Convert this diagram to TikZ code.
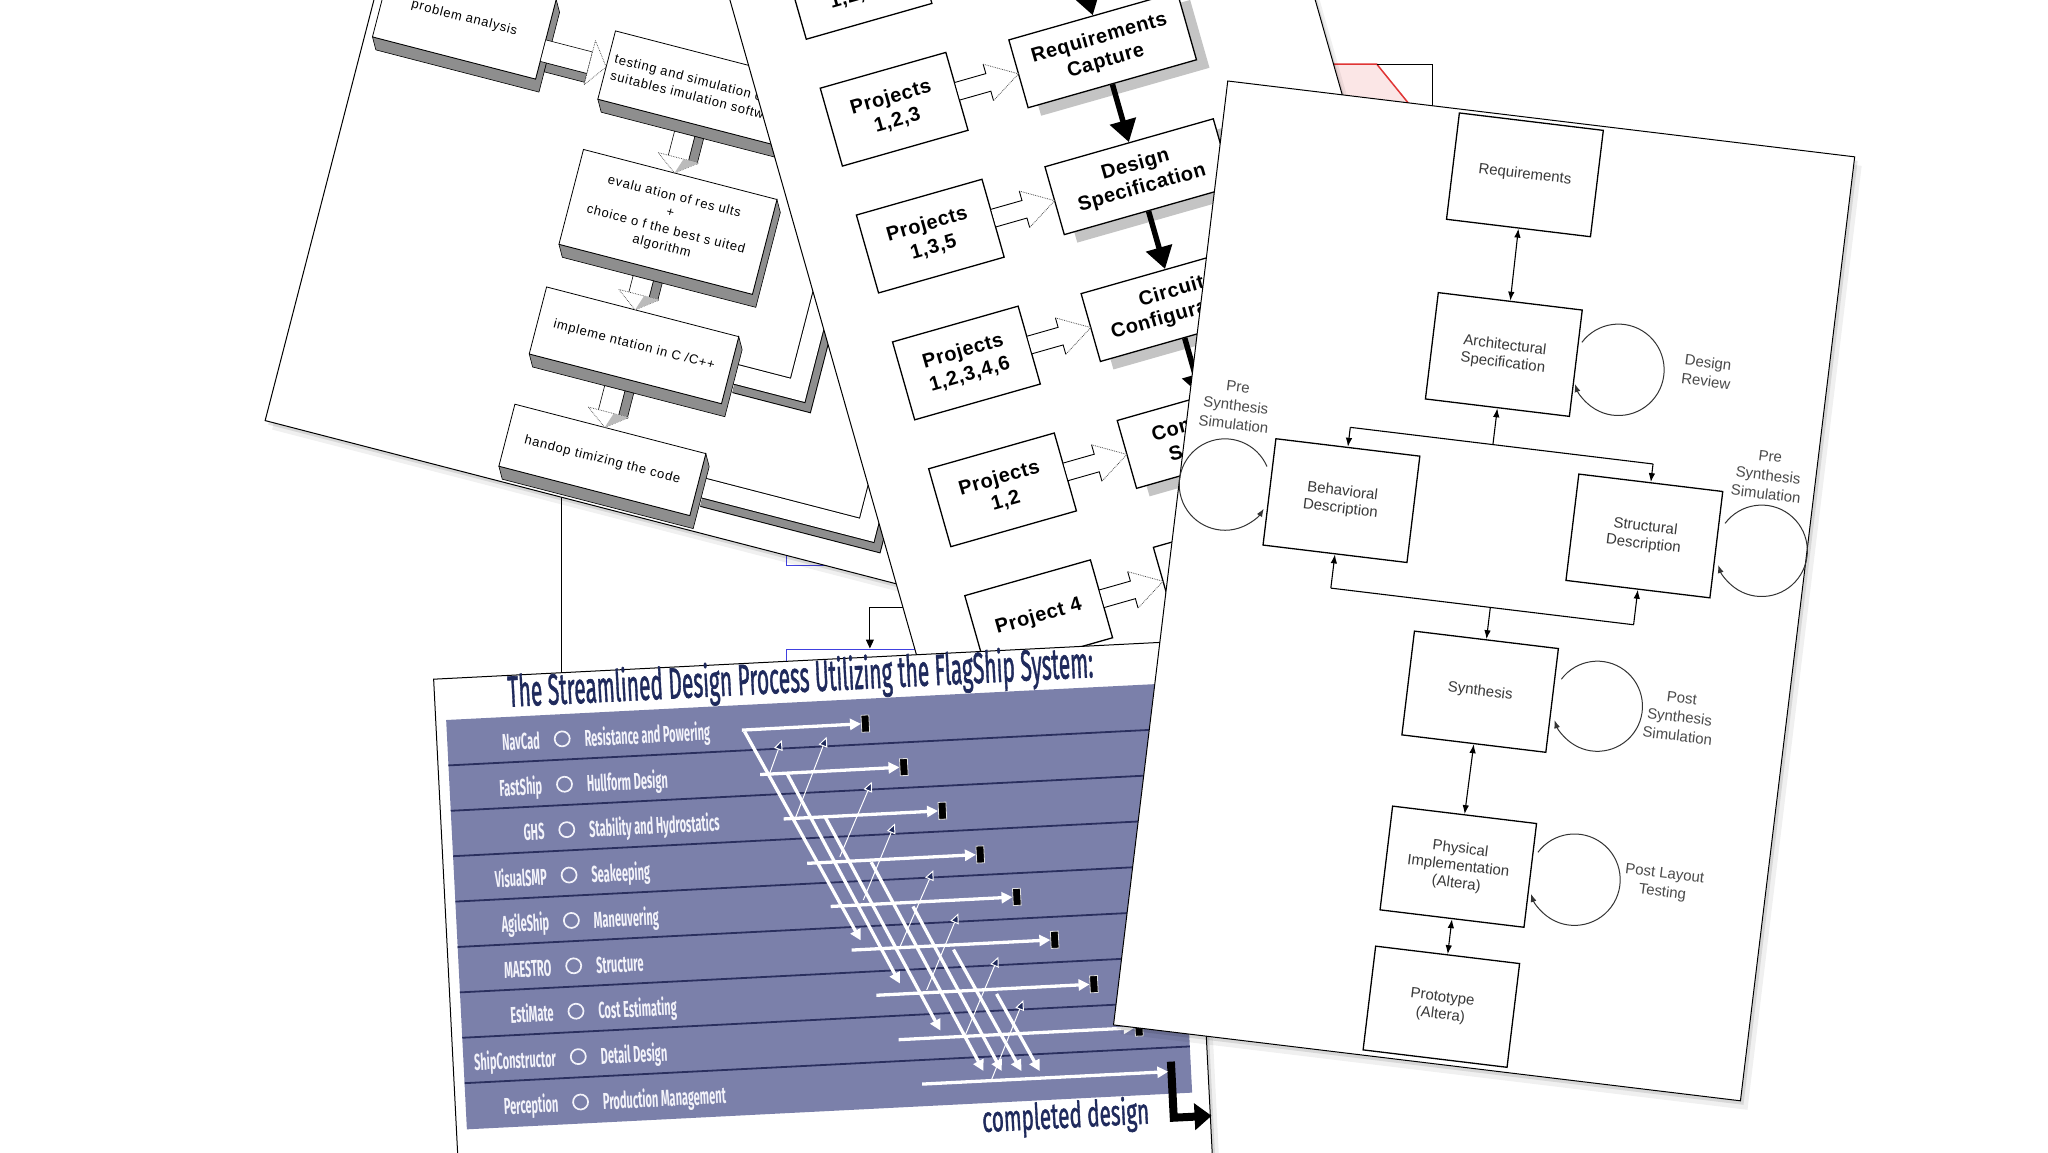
\documentclass[tikz,border=0pt]{standalone}
\usepackage{fontspec}
\usepackage{graphicx}
\setmainfont{Liberation Sans}
\newfontfamily\pofont[LetterSpace=6]{Liberation Sans}
\newfontfamily\pjfont[LetterSpace=3]{Liberation Sans}
\newfontfamily\flagfont{Fira Sans}
\newfontfamily\flagtitle[FakeBold=1.6]{Fira Sans}
\usetikzlibrary{arrows.meta}
\definecolor{bandc}{HTML}{7B80AA}
\definecolor{bandln}{HTML}{2A2F5E}
\definecolor{navy}{HTML}{1F2A5C}
\definecolor{rowtxt}{HTML}{F3F3FA}
\definecolor{extgray}{HTML}{8E8E8E}
\definecolor{shgray}{HTML}{C4C4C4}
\definecolor{ptxt}{HTML}{383838}
\definecolor{ltxt}{HTML}{4A4A4A}
\definecolor{bluel}{HTML}{4040E0}
\definecolor{redl}{HTML}{E03535}
\definecolor{pinkf}{HTML}{FBE6E6}
\newcommand\unitpt{1.306122pt}
\newcommand\pext[4]{\filldraw[fill=extgray,line width=0.6pt] (#1,#4) -- ({#1+5},{#4+9}) -- ({#3+5},{#4+9}) -- ({#3+5},{#2+9}) -- (#3,#2) -- (#3,#4) -- cycle;}
\newcommand\pvarr[3]{%
  \filldraw[fill=extgray,line width=0.6pt] ({#1+16},#2) rectangle ({#1+23},{#3-11});
  \filldraw[fill=white,line width=0.6pt] (#1,#2) rectangle ({#1+16},{#3-11});
  \filldraw[fill=white,draw=black!75,densely dotted,line width=0.7pt] ({#1-8},{#3-12}) -- ({#1+8},#3) -- ({#1+24},{#3-12}) -- cycle;
  \fill[extgray!60] ({#1+8},#3) -- ({#1+24},{#3-12}) -- ({#1+12},{#3-12}) -- cycle;}
\newcommand\pjarr[1]{%
  \fill[white] (148.5,{#1-7}) -- (173,{#1-7}) -- (173,{#1-14.5}) -- (197,#1) -- (173,{#1+14.5}) -- (173,{#1+7}) -- (148.5,{#1+7}) -- cycle;
  \draw[line width=0.9pt] (148,{#1-7}) -- (173,{#1-7}) -- (173,{#1-14.5});
  \draw[line width=0.9pt] (148,{#1+7}) -- (173,{#1+7}) -- (173,{#1+14.5});
  \draw[line width=0.8pt,densely dotted,black!70] (173,{#1-14.5}) -- (197,#1) -- (173,{#1+14.5});}
\begin{document}
\begin{tikzpicture}[x=1.306122pt,y=-1.306122pt,
  paper/.style={fill=white,draw=black,line width=1pt,
    preaction={fill=black,opacity=0.06,transform canvas={xshift=7pt,yshift=-9pt}},
    preaction={fill=black,opacity=0.10,transform canvas={xshift=3pt,yshift=-4pt}}},
  pobox/.style={draw=black,fill=white,line width=0.8pt,inner sep=3pt,align=center,
    font=\pofont\fontsize{13}{17}\selectfont},
  pcbox/.style={draw=black,fill=white,line width=1.3pt,inner sep=2pt,align=center,
    minimum width={134*\unitpt},minimum height={54*\unitpt},
    font=\pjfont\bfseries\fontsize{20}{24}\selectfont,
    preaction={fill=shgray,draw=none,transform canvas={xshift=13pt,yshift=-8pt}}},
  pjbox/.style={draw=black,fill=white,line width=1.3pt,inner sep=2pt,align=center,
    minimum width={100*\unitpt},minimum height={62*\unitpt},
    font=\pjfont\bfseries\fontsize{20}{24}\selectfont},
  bigarr/.style={line width=5.5pt,-{Triangle[length=22pt,width=26pt]}},
  p3box/.style={draw=black,fill=white,line width=1.3pt,inner sep=2pt,align=center,
    minimum width={111*\unitpt},minimum height={82*\unitpt},text=ptxt,
    font=\fontsize{15}{17.5}\selectfont},
  p3lab/.style={align=center,text=ltxt,inner sep=0pt,font=\fontsize{15}{19}\selectfont},
  p3con/.style={line width=1.1pt},
  p3tip/.style={line width=1.1pt,-{Latex[length=9pt,width=6.5pt]}},
  p3dbl/.style={line width=1.1pt,{Latex[length=9pt,width=6.5pt]}-{Latex[length=9pt,width=6.5pt]}},
  p3loop/.style={line width=1pt,draw=black!80,-{Latex[length=8pt,width=6pt]}},
  rowtool/.style={anchor=base east,inner sep=0pt,text=rowtxt,font=\flagfont\bfseries\fontsize{23}{23}\selectfont},
  rowtask/.style={anchor=base west,inner sep=0pt,text=rowtxt,font=\flagfont\bfseries\fontsize{23}{23}\selectfont},
  rowring/.style={circle,draw=rowtxt,line width=1.7pt,minimum size={11.5*\unitpt},inner sep=0pt},
  warr/.style={draw=white,line width=3.3pt,-{Triangle[length=11pt,width=11pt]}},
  wline/.style={draw=white,line width=1pt,-{Triangle[length=10pt,width=9pt,fill=navy]}},
  endmark/.style={fill=black,draw=white!75!gray,line width=0.8pt,minimum width={6*\unitpt},minimum height={13*\unitpt},inner sep=0pt,rotate=2.9}
]
\useasboundingbox (0,0) rectangle (1568,882);
\clip (0,0) rectangle (1568,882);
\fill[white] (0,0) rectangle (1568,882);

% ---------- page behind (blue boxes) ----------
\fill[white] (430,330) rectangle (760,882);
\draw[line width=1pt] (430,330) -- (430,882);
\draw[bluel,line width=1.3pt] (602,400) -- (602,433) -- (660,433);
\draw[bluel,line width=1.3pt] (602,540) -- (602,497) -- (730,497);
\coordinate (b0s) at (700,465);
\coordinate (b0k) at (666,465);
\coordinate (b0e) at (666,496.5);
\draw[line width=1pt,-{Triangle[length=9pt,width=8pt]}] (b0s) -- (b0k) -- (b0e);

% ---------- page behind (red shape) ----------
\fill[white] (985,49) rectangle (1097,220);
\fill[pinkf] (985,49) -- (1054,49) -- (1084,86) -- (985,86) -- cycle;
\draw[redl,line width=1.5pt] (985,49) -- (1054,49) -- (1084,86);
\draw[line width=1pt] (1054,49) -- (1097,49) -- (1097,220);

% ---------- page 1: 3D flow chart ----------
\begin{scope}[shift={(203,322)},rotate=-14.5,transform shape]
\path[paper] (0,-450) rectangle (620,0);
\draw[line width=21pt] (341,-118) -- (395,-118) -- (395,-339) -- (360,-339);
\draw[line width=19pt,extgray] (341,-118) -- (395,-118) -- (395,-339) -- (360,-339);
\draw[line width=21pt] (334,-124.5) -- (389,-124.5) -- (389,-345) -- (355,-345);
\draw[line width=19pt,white] (334,-124.5) -- (389,-124.5) -- (389,-345) -- (355,-345);
\draw[line width=21pt] (339,-27.5) -- (473.5,-27.5) -- (473.5,-380);
\draw[line width=19pt,extgray] (339,-27.5) -- (473.5,-27.5) -- (473.5,-380);
\draw[line width=21pt] (332,-34) -- (467,-34) -- (467,-386);
\draw[line width=19pt,white] (332,-34) -- (467,-34) -- (467,-386);
\pext{6}{-368}{135}{-305}
\node[pobox,minimum width={129*\unitpt},minimum height={63*\unitpt}] (p1a) at (70.5,-336.5) {problem analysis};
\pext{185}{-356}{360}{-302}
\node[pobox,minimum width={175*\unitpt},minimum height={54*\unitpt},text width={165*\unitpt},align=left] (p1b) at (272.5,-329) {testing and simulation of\\suitables imulation software};
\pext{184}{-262}{337}{-187}
\node[pobox,minimum width={153*\unitpt},minimum height={75*\unitpt}] (p1c) at (260.5,-224.5) {evalu ation of res ults\\+\\choice o f the best s uited\\algorithm};
\pext{183}{-153}{335}{-100}
\node[pobox,minimum width={152*\unitpt},minimum height={53*\unitpt}] (p1d) at (259,-126.5) {impleme ntation in C /C++};
\pext{182}{-60}{333}{-11}
\node[pobox,minimum width={151*\unitpt},minimum height={49*\unitpt}] (p1e) at (257.5,-35.5) {handop timizing the code};
\filldraw[fill=extgray,line width=0.6pt] (140,-319) rectangle (172,-312);
\filldraw[fill=white,line width=0.6pt] (135,-336) rectangle (172,-319);
\filldraw[fill=white,draw=black!75,densely dotted,line width=0.7pt] (172,-345) -- (185,-327.5) -- (172,-310) -- cycle;
\pvarr{248}{-293}{-262}
\pvarr{245}{-178}{-153}
\pvarr{245}{-91}{-60}
\end{scope}

% ---------- page 2: projects ----------
\begin{scope}[shift={(558,-3)},rotate=15.9,transform shape]
\path[paper] (0,-260) rectangle (431,640);
\node[pcbox] (pc0) at (264,17) {};
\node[pcbox] (pc1) at (264,118) {Requirements\\Capture};
\node[pcbox] (pc2) at (264,219) {Design\\Specification};
\node[pcbox] (pc3) at (264,320) {Circuit\\Configuration};
\node[pcbox] (pc4) at (264,421) {Component\\Selection};
\node[pcbox] (pc5) at (264,522) {};
\draw[bigarr] (pc0.south) -- (pc1.north);
\draw[bigarr] (pc1.south) -- (pc2.north);
\draw[bigarr] (pc2.south) -- (pc3.north);
\draw[bigarr] (pc3.south) -- (pc4.north);
\draw[bigarr] (pc4.south) -- (pc5.north);
\node[pjbox] (pj0) at (98,17) {Projects\\1,2,3,4};
\node[pjbox] (pj1) at (98,118) {Projects\\1,2,3};
\node[pjbox] (pj2) at (98,219) {Projects\\1,3,5};
\node[pjbox] (pj3) at (98,320) {Projects\\1,2,3,4,6};
\node[pjbox] (pj4) at (98,421) {Projects\\1,2};
\node[pjbox] (pj5) at (98,522) {Project 4};
\pjarr{17}\pjarr{118}\pjarr{219}\pjarr{320}\pjarr{421}\pjarr{522}
\end{scope}

% ---------- page 4: FlagShip ----------
\begin{scope}[shift={(332,520)},rotate=2.9,transform shape]
\path[paper] (0,0) rectangle (577,450);
\fill[bandc] (8,31.7) rectangle (564,345.5);
\foreach \k in {1,...,8} {\draw[bandln,line width=1.8pt] (8,{31.7+34.8*\k}) -- (564,{31.7+34.8*\k});}
\node[anchor=base west,inner sep=0pt,text=navy] (ftitle) at (56,24) {\resizebox{586pt}{34pt}{\flagtitle The Streamlined Design Process Utilizing the FlagShip System:}};
\foreach \i/\tool/\task in {1/NavCad/Resistance and Powering,2/FastShip/Hullform Design,3/GHS/Stability and Hydrostatics,4/VisualSMP/Seakeeping,5/AgileShip/Maneuvering,6/MAESTRO/Structure,7/EstiMate/Cost Estimating,8/ShipConstructor/Detail Design,9/Perception/Production Management}{
  \node[rowtool] (tool\i) at (79,{22.5+34.8*\i}) {\scalebox{0.48}[1]{\tool}};
  \node[rowring] (ring\i) at (96,{15.8+34.8*\i}) {};
  \node[rowtask] (task\i) at (113,{22.5+34.8*\i}) {\scalebox{0.48}[1]{\task}};
}
\node[anchor=base east,inner sep=0pt,text=navy] (cdes) at (530.5,367.5) {\resizebox{167pt}{28pt}{\flagtitle completed design}};
\coordinate (lt) at (549,321);
\coordinate (lc) at (549,364);
\coordinate (le) at (578,364);
\draw[line width=8pt,-{Triangle[length=17pt,width=26pt]}] (lt) -- (lc) -- (le);
\end{scope}

% white process arrows on the FlagShip chart
\foreach \n/\a/\b/\c/\d in {1/589/593/598.5/566.6,2/608.7/627/632.9/564.1,3/643/656/667.4/598.5,4/661/689/685.2/630.4,5/689/725/714.6/666.2,6/709.5/758/733.7/699.3,7/739/792.5/764.4/732.5,8/759/827/783.5/765.7}{
  \coordinate (fs\n) at (\a,\b); \coordinate (fe\n) at (\c,\d);
  \draw[wline] (fs\n) -- (fe\n);
}
\foreach \n/\a/\b/\c/\d in {1/570/560/659/720,2/603/593/689/753,3/632/626/720/789,4/667/660/753/820,5/699/694/767/820,6/730/727/782/820,7/763/761/796/820}{
  \coordinate (ds\n) at (\a,\b); \coordinate (de\n) at (\c,\d);
  \draw[warr] (ds\n) -- (de\n);
}
\foreach \n/\xs/\ys/\xr/\yr in {1/568/559/662.5/554,2/582/593/692/587.3,3/600/627/721.5/620.7,4/618/661/750.5/654.2,5/636/694/778.5/686.7,6/652/727.4/807.5/719.5,7/671/762/837.5/753.5,8/688/796/872/786.7}{
  \coordinate (rs\n) at (\xs,\ys);
  \node[endmark] (rm\n) at (\xr,\yr) {};
  \draw[warr] (rs\n) -- (rm\n.west);
}
\coordinate (rs9) at (706,830);
\coordinate (re9) at (894.5,820.5);
\draw[warr] (rs9) -- (re9);

% ---------- page 3: design flow ----------
\begin{scope}[shift={(940,62)},rotate=-6.9,transform shape]
\path[paper] (0,0) rectangle (483.5,728);
\node[p3box] (req) at (234.5,44) {Requirements};
\node[p3box] (arch) at (235,182.5) {Architectural\\Specification};
\node[p3box] (beh) at (125,308.5) {Behavioral\\Description};
\node[p3box] (str) at (358.5,307.5) {Structural\\Description};
\node[p3box,minimum height={80*\unitpt}] (syn) at (248,441) {Synthesis};
\node[p3box,minimum height={80*\unitpt}] (phy) at (247.5,576) {Physical\\Implementation\\(Altera)};
\node[p3box,minimum height={80*\unitpt}] (pro) at (247.5,684) {Prototype\\(Altera)};
\coordinate (j1) at (235,252);
\coordinate (jl) at (125,252);
\coordinate (jr) at (358.5,252);
\coordinate (j2) at (248,376);
\coordinate (j2l) at (125,376);
\coordinate (j2r) at (358.5,376);
\draw[p3dbl] (req.south) -- (arch.north);
\draw[p3tip] (j1) -- (arch.south);
\draw[p3con] (jl) -- (jr);
\draw[p3tip] (jl) -- (beh.north);
\draw[p3tip] (jr) -- (str.north);
\draw[p3con] (j2l) -- (j2r);
\draw[p3tip] (j2l) -- (beh.south);
\draw[p3tip] (j2r) -- (str.south);
\draw[p3tip] (j2) -- (syn.north);
\draw[p3dbl] (syn.south) -- (phy.north);
\draw[p3dbl] (phy.south) -- (pro.north);
\draw[p3loop] (293.2,166.1) arc[start angle=210,end angle=515,radius=35];
\draw[p3loop] (65.3,289.5) arc[start angle=330,end angle=25,radius=35];
\draw[p3loop] (418.7,290.5) arc[start angle=210,end angle=515,radius=35];
\draw[p3loop] (308.6,424) arc[start angle=210,end angle=515,radius=34.5];
\draw[p3loop] (306.7,557.7) arc[start angle=210,end angle=515,radius=35];
\node[p3lab] (ldr) at (391,177) {Design\\Review};
\node[p3lab] (lps1) at (36,246) {Pre\\Synthesis\\Simulation};
\node[p3lab] (lps2) at (447,250) {Pre\\Synthesis\\Simulation};
\node[p3lab] (lpss) at (402,442) {Post\\Synthesis\\Simulation};
\node[p3lab] (lplt) at (405,570) {Post Layout\\Testing};
\end{scope}
\end{tikzpicture}
\end{document}
